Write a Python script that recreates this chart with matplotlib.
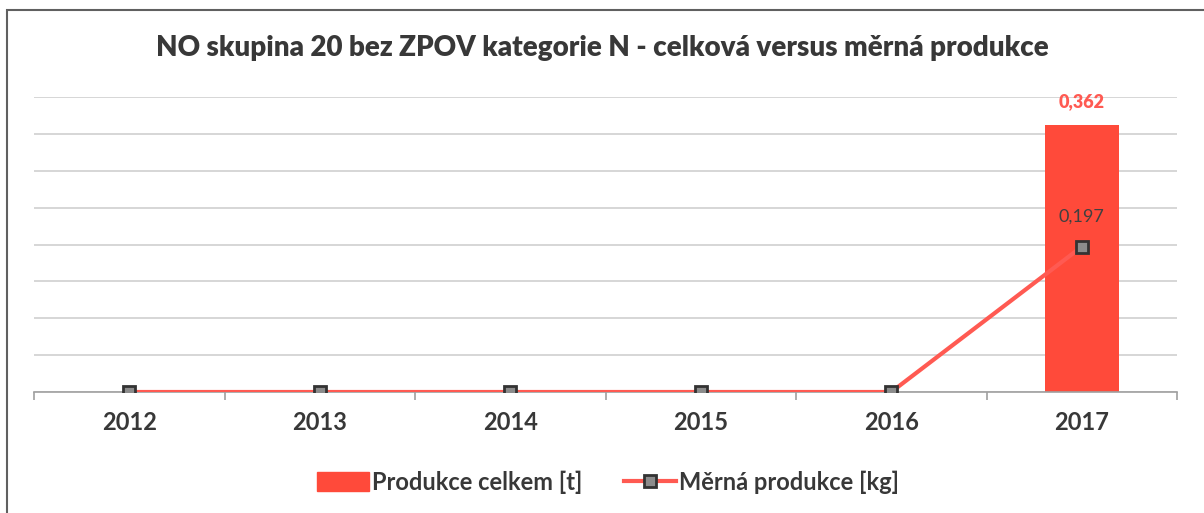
import numpy as np
import matplotlib.pyplot as plt
from matplotlib.patches import Patch, Rectangle
from matplotlib.lines import Line2D

plt.rcParams['font.family'] = ['Lato', 'DejaVu Sans']

roky = ['2012', '2013', '2014', '2015', '2016', '2017']
produkce_celkem = [0, 0, 0, 0, 0, 0.362]
merna_produkce = [0, 0, 0, 0, 0, 0.197]
popisky_celkem = ['', '', '', '', '', '0,362']
popisky_merna = ['', '', '', '', '', '0,197']

cervena_bar = '#ff4a3a'
cervena_line = '#ff5a52'
seda_text = '#383838'

fig = plt.figure(figsize=(12.04, 5.13), dpi=100)
W, H = 1204, 513
ax = fig.add_axes([34 / W, (H - 392) / H, (1177 - 34) / W, (392 - 97) / H])

x = np.arange(len(roky))
ax.bar(x, produkce_celkem, width=0.39, color=cervena_bar, zorder=2)
ax.plot(x, merna_produkce, color=cervena_line, lw=3, zorder=3,
        marker='s', ms=8, mfc='#8c8c8c', mec='#333333', mew=2)

for i, t in enumerate(popisky_celkem):
    if t:
        ax.text(x[i], produkce_celkem[i] + 0.02, t, ha='center', va='bottom',
                color=cervena_line, fontsize=13, fontweight='heavy')
for i, t in enumerate(popisky_merna):
    if t:
        ax.text(x[i], merna_produkce[i] + 0.03, t, ha='center', va='bottom',
                color='#404040', fontsize=13)

ax.set_xlim(-0.5, len(roky) - 0.5)
ax.set_ylim(0, 0.4)
ax.set_yticks(np.arange(0, 0.401, 0.05))
ax.yaxis.grid(True, color='#d0d0d0', lw=1.2, zorder=0)
ax.tick_params(axis='y', left=False, labelleft=False)
for s in ['top', 'right', 'left']:
    ax.spines[s].set_visible(False)
ax.spines['bottom'].set_color('#a0a0a0')
ax.spines['bottom'].set_linewidth(1.2)

ax.set_xticks(x)
ax.set_xticklabels(roky, fontsize=17, fontweight='bold', color=seda_text)
ax.tick_params(axis='x', length=0, pad=14)
ax.set_xticks(np.arange(-0.5, len(roky), 1), minor=True)
ax.tick_params(axis='x', which='minor', length=6, color='#a0a0a0', width=1.2)

fig.text(0.5, 1 - 48 / H, 'NO skupina 20 bez ZPOV kategorie N - celková versus měrná produkce',
         ha='center', va='center', fontsize=20, fontweight='heavy', color=seda_text)

# ramecek grafu
fig.patches.append(Rectangle((7 / W, -0.05), 1.1, 1 - 10 / H + 0.05, transform=fig.transFigure,
                             fill=False, ec='#606060', lw=1.5))

handles = [Patch(color=cervena_bar),
           Line2D([0], [0], color=cervena_line, lw=3, marker='s', ms=8,
                  mfc='#8c8c8c', mec='#333333', mew=2)]
fig.legend(handles, ['Produkce celkem [t]', 'Měrná produkce [kg]'],
           loc='center', bbox_to_anchor=(608 / W, 1 - 482 / H), ncol=2, frameon=False,
           handlelength=2.2, handleheight=0.9, handletextpad=0.12, columnspacing=1.8,
           labelcolor=seda_text, prop={'weight': 'bold', 'size': 17})

fig.savefig('out.png', dpi=100)
